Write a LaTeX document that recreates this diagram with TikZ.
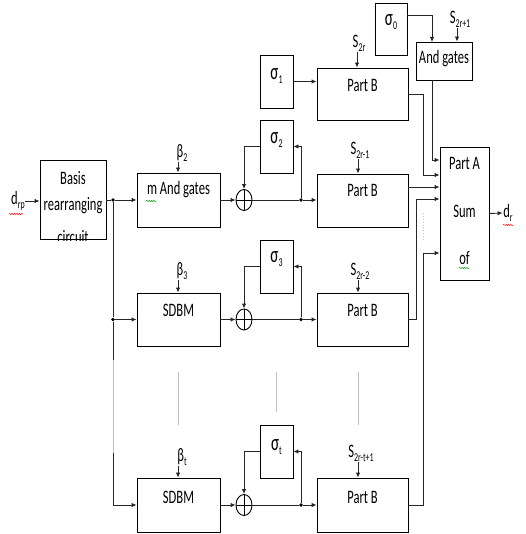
\documentclass[tikz,border=0pt]{standalone}
\usepackage{fontspec}
\setmainfont{Carlito}[FakeStretch=0.66]
\usetikzlibrary{arrows.meta,shapes.geometric,decorations.pathmorphing}
\newcommand\lsub[1]{\raisebox{-0.45ex}{\fontsize{12}{12}\selectfont #1}}
\newcommand\sigm{{\fontsize{23}{23}\selectfont σ}}
\begin{document}
\begin{tikzpicture}[x=1pt,y=-1pt,
  box/.style={draw, line width=0.9pt, rectangle, inner sep=0},
  txt/.style={inner sep=0.5pt, font=\fontsize{19}{21}\selectfont},
  conn/.style={line width=0.9pt, draw=black!85},
  arr/.style={conn, -{Latex[length=5pt,width=4.5pt]}},
  dot/.style={circle, fill=black, inner sep=0, minimum size=3.8pt},
  adder/.style={ellipse, draw, line width=0.9pt, minimum width=16pt, minimum height=21pt, inner sep=0},
  vdots/.style={draw=black!25, line width=0.9pt},
  sq/.style={decorate, decoration={snake, amplitude=0.6pt, segment length=2.4pt}, line width=0.5pt}]
\useasboundingbox (0,0) rectangle (525,534);

% boxes
\node[box, minimum width=66pt, minimum height=79pt] (basis) at (73,200) {};
\node[box, minimum width=83pt, minimum height=54pt] (and2) at (178.5,200) {};
\node[box, minimum width=83pt, minimum height=53pt] (sdbm3) at (178.5,319.5) {};
\node[box, minimum width=83pt, minimum height=54pt] (sdbmt) at (178.5,505) {};
\node[box, minimum width=33pt, minimum height=53pt] (sig1) at (276.5,81.5) {};
\node[box, minimum width=33pt, minimum height=53pt] (sig2) at (276.5,146.5) {};
\node[box, minimum width=33pt, minimum height=53pt] (sig3) at (276.5,266.5) {};
\node[box, minimum width=33pt, minimum height=53pt] (sigt) at (276.5,451.5) {};
\node[box, minimum width=91pt, minimum height=52pt] (pb1) at (362.5,94) {};
\node[box, minimum width=91pt, minimum height=53pt] (pb2) at (362.5,200.5) {};
\node[box, minimum width=91pt, minimum height=53pt] (pb3) at (362.5,319.5) {};
\node[box, minimum width=91pt, minimum height=54pt] (pbt) at (362.5,505) {};
\node[box, minimum width=32pt, minimum height=52pt] (sig0) at (391,29) {};
\node[box, minimum width=56pt, minimum height=38pt] (andg) at (444,61) {};
\node[box, minimum width=49pt, minimum height=133pt] (parta) at (464.5,213.5) {};

% adders
\foreach \n/\y in {add2/200, add3/319.5, addt/505}{
  \node[adder] (\n) at (244,\y) {};
  \draw[line width=0.9pt] (\n.north) -- (\n.south) (\n.west) -- (\n.east);
}

% box texts
\begin{scope}
\clip (40,161) rectangle (106,240);
\node[txt] (tb1) at (73,178) {Basis};
\node[txt] (tb2) at (73,206) {rearranging};
\node[txt] (tb3) at (73,237) {circuit};
\end{scope}
\node[txt] (t2) at (178.5,190) {m And gates};
\node[txt] (t3) at (178.5,310) {SDBM};
\node[txt] (tt) at (178.5,497) {SDBM};
\node[txt] (ts1) at (276.5,76) {\sigm\lsub{1}};
\node[txt] (ts2) at (276.5,140) {\sigm\lsub{2}};
\node[txt] (ts3) at (276.5,259) {\sigm\lsub{3}};
\node[txt] (tst) at (276.5,447) {\sigm\lsub{t}};
\node[txt] (ts0) at (391,22) {\sigm\lsub{0}};
\node[txt] (tp1) at (362.5,85) {Part B};
\node[txt] (tp2) at (362.5,190) {Part B};
\node[txt] (tp3) at (362.5,310) {Part B};
\node[txt] (tpt) at (362.5,497) {Part B};
\node[txt] (tag) at (444,59) {And gates};
\node[txt] (ta1) at (464.5,163) {Part A};
\node[txt] (ta2) at (464.5,211) {Sum};
\node[txt] (ta3) at (464.5,258) {of};

% external labels
\node[txt] (drp) at (18,201) {d\lsub{rp}};
\node[txt] (dr) at (508,213) {d\lsub{r}};
\node[txt] (b2) at (182,153) {β\lsub{2}};
\node[txt] (b3) at (182,271) {β\lsub{3}};
\node[txt] (bt) at (182,457) {β\lsub{t}};
\node[txt] (s2r) at (359,43) {S\lsub{2r}};
\node[txt] (s2r1) at (360,150) {S\lsub{2r-1}};
\node[txt] (s2r2) at (360,271) {S\lsub{2r-2}};
\node[txt] (s2rt) at (361,453) {S\lsub{2r-t+1}};
\node[txt] (s2rp) at (460,19) {S\lsub{2r+1}};

% label arrows
\draw[arr] ([xshift=-4pt]b2.south) -- ([xshift=-4pt]b2.south |- and2.north);
\draw[arr] ([xshift=-4pt]b3.south) -- ([xshift=-4pt]b3.south |- sdbm3.north);
\draw[arr] ([xshift=-4pt]bt.south) -- ([xshift=-4pt]bt.south |- sdbmt.north);
\draw[arr] ([xshift=-2pt]s2r.south) -- ([xshift=-2pt]s2r.south |- pb1.north);
\draw[arr] ([xshift=-2pt]s2r1.south) -- ([xshift=-2pt]s2r1.south |- pb2.north);
\draw[arr] ([xshift=-2pt]s2r2.south) -- ([xshift=-2pt]s2r2.south |- pb3.north);
\draw[arr] ([xshift=-3pt]s2rt.south) -- ([xshift=-3pt]s2rt.south |- pbt.north);
\draw[arr] ([xshift=-3pt]s2rp.south) -- ([xshift=-3pt]s2rp.south |- andg.north);

% input / output
\draw[arr] (drp.east) -- (drp.east -| basis.west);
\draw[arr] (parta.east) -- (dr.west);

% distribution bus
\node[dot] (j2) at (113,200) {};
\node[dot] (j3) at (113,319.5) {};
\coordinate (g1) at (113,360);
\coordinate (g2) at (113,453);
\coordinate (jt) at (113,505);
\draw[conn] (basis.east) -- (j2);
\draw[arr] (j2) -- (and2.west);
\draw[arr] (j3) -- (sdbm3.west);
\draw[conn] (j2) -- (j3) -- (g1);
\draw[vdots] (g1) -- (g2);
\draw[conn] (g2) -- (jt);
\draw[arr] (jt) -- (sdbmt.west);

% rows
\node[dot] (k2) at (301,200) {};
\node[dot] (k3) at (301,319.5) {};
\node[dot] (kt) at (301,505) {};
\draw[arr] (and2.east) -- (add2.west);
\draw[arr] (sdbm3.east) -- (add3.west);
\draw[arr] (sdbmt.east) -- (addt.west);
\draw[conn] (add2.east) -- (k2);
\draw[conn] (add3.east) -- (k3);
\draw[conn] (addt.east) -- (kt);
\draw[arr] (k2) -- (k2 -| pb2.west);
\draw[arr] (k3) -- (pb3.west);
\draw[arr] (kt) -- (pbt.west);
\draw[arr] (sig2.west) -| (add2.north);
\draw[arr] (sig3.west) -| (add3.north);
\draw[arr] (sigt.west) -| (addt.north);
\draw[arr] (k2) |- (sig2.east);
\draw[arr] (k3) |- (sig3.east);
\draw[arr] (kt) |- (sigt.east);
\draw[arr] (sig1.east) -- (sig1.east -| pb1.west);

% top right
\coordinate (s0o) at (407,15);
\coordinate (a0in) at (432,42);
\coordinate (ago) at (432,80);
\draw[arr] (s0o) -| (a0in);
\draw[arr] (ago) |- (parta.west |- 0,160);
\draw[arr] (pb1.east) -- ++(15,0) |- (parta.west |- 0,175);
\draw[arr] (pb2.east |- 0,187) -- (parta.west |- 0,187);
\draw[arr] (pb3.east) -- ++(8,0) |- (parta.west |- 0,199);
\draw[arr] (pbt.east) -- ++(15,0) |- (parta.west |- 0,253);
\draw[vdots, dotted] (423,213) -- (423,240);

% vertical ellipses
\draw[vdots] (178,372) -- (178,425);
\draw[vdots] (276,372) -- (276,412);
\draw[vdots] (358,372) -- (358,425);

% spell-check marks
\draw[sq, red] (9,214) -- (23,214);
\draw[sq, red] (503,225) -- (513,225);
\draw[sq, green!60!black] (146,201) -- (156,201);
\draw[sq, green!60!black] (459,268) -- (469,268);
\end{tikzpicture}
\end{document}
